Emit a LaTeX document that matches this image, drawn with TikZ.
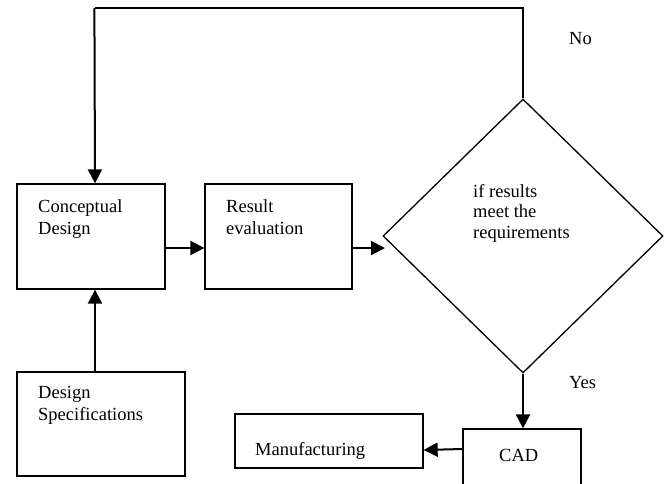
\documentclass[tikz,border=0pt]{standalone}
\usepackage{fontspec}
\setmainfont{Liberation Serif}
\usetikzlibrary{shapes.geometric,arrows.meta}
\begin{document}
\begin{tikzpicture}[x=1pt,y=-1pt,
  box/.style={draw,line width=1.3pt,inner sep=0pt,rectangle},
  txt/.style={anchor=base west,inner sep=0pt,font=\fontsize{18.5}{22}\selectfont,align=left},
  arr/.style={line width=2pt,-{Triangle[length=14pt,width=14pt]}},
  thin/.style={line width=1.3pt}]
\useasboundingbox (0,0) rectangle (666,483);
% boxes
\node[box,minimum width=148pt,minimum height=105pt] (cd) at (91,236.5) {};
\node[box,minimum width=147pt,minimum height=105pt] (re) at (278.5,236.5) {};
\node[box,minimum width=168pt,minimum height=104pt] (ds) at (101,424) {};
\node[box,minimum width=188pt,minimum height=54pt] (mf) at (329,441) {};
\node[box,minimum width=118pt,minimum height=64pt] (cad) at (522,461) {};
\node[draw,thin,diamond,inner sep=0pt,minimum width=280pt,minimum height=274pt] (dec) at (523,236) {};
% texts (base = baseline of the last line)
\node[txt] (t1) at (38,234.5) {Conceptual\\Design};
\node[txt] (t2) at (226,234.5) {Result\\evaluation};
\node[txt] (t3) at (38,420) {Design\\Specifications};
\node[txt] (t4) at (255,455) {Manufacturing};
\node[txt] (t5) at (499,461) {CAD};
\node[txt,font=\fontsize{18.5}{20.5}\selectfont] (t6) at (473,238) {if results\\meet the\\requirements};
\node[txt] (no) at (569,44) {No};
\node[txt] (yes) at (569,388) {Yes};
% connectors
\coordinate (c1) at (523,8);
\coordinate (c2) at (95,8);
\coordinate (rin) at (385,248);
\draw[thin] (dec.north) -- (c1) -- (c2);
\draw[arr] ([xshift=-0.6pt]c2) -- ([xshift=4pt]cd.north);
\draw[arr] ([xshift=-6pt]ds.north) -- ([xshift=4pt]cd.south);
\draw[arr] ([yshift=-11.5pt]cd.east) -- ([yshift=-11.5pt]re.west);
\draw[arr] ([yshift=-11.5pt]re.east) -- (rin);
\draw[arr] (dec.south) -- ([xshift=1pt]cad.north);
\draw[arr] ([yshift=12pt]cad.west) -- ([yshift=-9pt]mf.east);
\end{tikzpicture}
\end{document}
